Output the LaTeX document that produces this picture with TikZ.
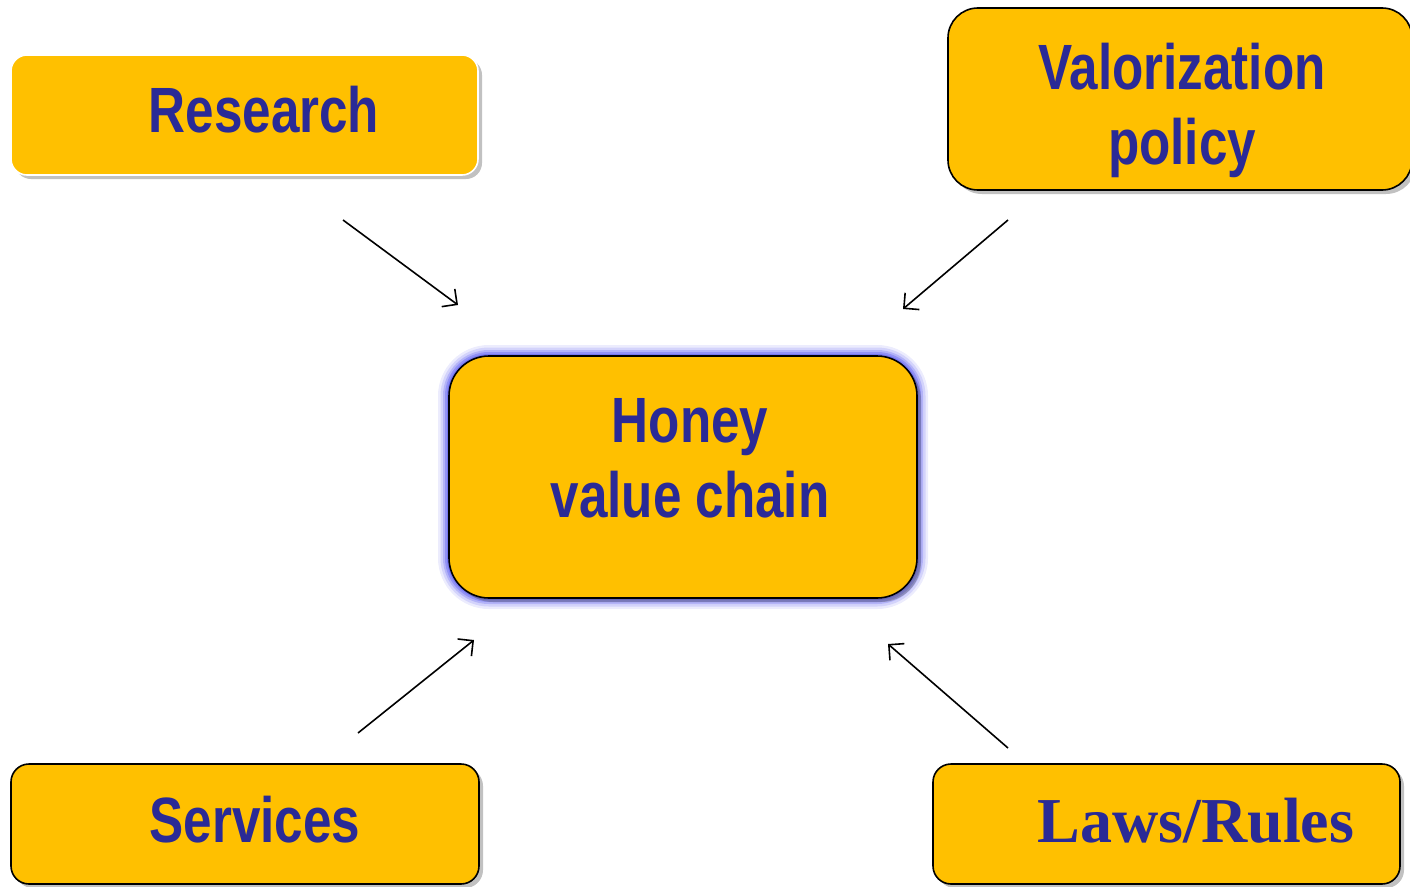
\documentclass[tikz,border=0pt]{standalone}
\usepackage{fontspec}
\usetikzlibrary{arrows.meta,shadows}
\newfontfamily\nf[FakeStretch=0.8]{Liberation Sans}
\newfontfamily\tf{Liberation Serif}
\definecolor{boxfill}{HTML}{FFC000}
\definecolor{txtblue}{HTML}{2A2A96}
\definecolor{glowc}{HTML}{6060F0}
\tikzset{
  box/.style={shape=rectangle, draw=black, line width=1.6bp, fill=boxfill,
    rounded corners=#1, inner sep=0pt,
    drop shadow={shadow xshift=4bp, shadow yshift=-4bp, opacity=0.35, fill=black!70}},
  label text/.style={inner sep=0pt, text=txtblue, font=\nf\bfseries\fontsize{64bp}{75bp}\selectfont, align=center},
  arr/.style={draw=black, line width=1.6bp, -{Straight Barb[length=11bp,width=22bp]}}
}
\begin{document}
\begin{tikzpicture}[x=1bp,y=-1bp]
\useasboundingbox (0,0) rectangle (1410,886);
% boxes
\node[box=16bp, draw=white, minimum width=467bp, minimum height=120bp] (research) at (244.5,115) {};
\node[box=30bp, minimum width=464bp, minimum height=182bp] (valor) at (1180,99) {};
% honey glow
\foreach \w/\o in {22/0.12, 17/0.18, 12/0.28, 8/0.4, 4/0.55}
  \draw[glowc, line width=\w bp, opacity=\o, rounded corners=40bp] (449,356) rectangle (917,598);
\node[box=40bp, minimum width=468bp, minimum height=242bp] (honey) at (683,477) {};
\node[box=18bp, minimum width=468bp, minimum height=120bp] (services) at (245,824) {};
\node[box=18bp, minimum width=467bp, minimum height=120bp] (laws) at (1166.5,824) {};
% texts
\node[label text, anchor=base] (researchtxt) at (264,132) {Research};
\node[label text, anchor=center] (valortxt) at (1182,110) {Valorization\\policy};
\node[label text, anchor=center] (honeytxt) at (690,458) {Honey\\value chain};
\node[label text, anchor=base] (servicestxt) at (255,842) {Services};
\node[label text, anchor=base, font=\tf\bfseries\fontsize{64bp}{75bp}\selectfont] (lawstxt) at (1196,842) {Laws/Rules};
% arrow end points
\coordinate (a1s) at (343,220); \coordinate (a1e) at (458,305);
\coordinate (a2s) at (1008,220); \coordinate (a2e) at (903,309);
\coordinate (a3s) at (358,733); \coordinate (a3e) at (474,640);
\coordinate (a4s) at (1008,748); \coordinate (a4e) at (888,644);
\draw[arr] (a1s) -- (a1e);
\draw[arr] (a2s) -- (a2e);
\draw[arr] (a3s) -- (a3e);
\draw[arr] (a4s) -- (a4e);
\end{tikzpicture}
\end{document}
